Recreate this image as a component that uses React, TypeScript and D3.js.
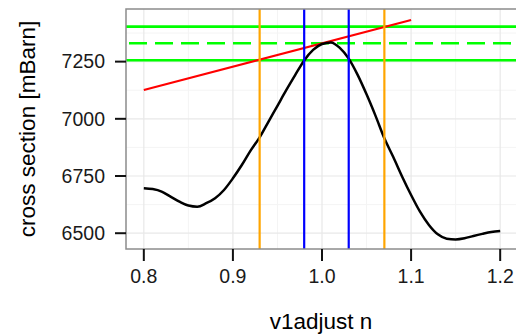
import * as d3 from 'd3';

const adjustN = [
  0.8, 0.81, 0.82, 0.83, 0.84, 0.85, 0.86, 0.87, 0.88, 0.89, 0.9, 0.91, 0.92, 0.93,
  0.94, 0.95, 0.96, 0.97, 0.98, 0.99, 1.0, 1.01, 1.02, 1.03, 1.04, 1.05, 1.06, 1.07,
  1.08, 1.09, 1.1, 1.11, 1.12, 1.13, 1.14, 1.15, 1.16, 1.17, 1.18, 1.19, 1.2,
];
const crossSection = [
  6697, 6693, 6682, 6660, 6638, 6621, 6616, 6631, 6653, 6689, 6740, 6798, 6862, 6919,
  6988, 7057, 7126, 7192, 7255, 7301, 7327, 7334, 7310, 7263, 7192, 7107, 7014, 6915,
  6833, 6747, 6667, 6594, 6536, 6495, 6476, 6473, 6478, 6488, 6497, 6505, 6510,
];

// straight fit line
const fitX = [0.8, 1.1];
const fitY = [7126, 7432];

// horizontal band: low, centre, high
const bandLow = 7256;
const bandMid = 7330;
const bandHigh = 7403;

const innerCuts = [0.98, 1.03];
const outerCuts = [0.93, 1.07];

const xTicks = [0.8, 0.9, 1.0, 1.1, 1.2];
const xMinor = [0.85, 0.95, 1.05, 1.15];
const yTicks = [6500, 6750, 7000, 7250];
const yMinor = [6625, 6875, 7125, 7375];

const W = 516;
const H = 335;
const left = 126;
const top = 9;
const bottom = 249;
const right = 518;

export default function App() {
  const x = d3.scaleLinear().domain([0.78, 1.22]).range([left, right]);
  const y = d3.scaleLinear().domain([6431, 7480]).range([bottom, top]);

  const curve = d3
    .line<number>()
    .x((_, i) => x(adjustN[i]))
    .y((d) => y(d))
    .curve(d3.curveMonotoneX);

  const font = '"Liberation Sans", Arial, sans-serif';

  return (
    <div style={{ position: 'fixed', left: 0, top: 0 }}>
      <svg width={W} height={H} style={{ display: 'block', background: '#fff' }}>
        <defs>
          <clipPath id="panel">
            <rect x={left} y={top} width={right - left} height={bottom - top} />
          </clipPath>
        </defs>
        <rect x={left} y={top} width={right - left} height={bottom - top} fill="#fff" />

        {/* grid */}
        {xMinor.map((t) => (
          <line key={'xm' + t} x1={x(t)} x2={x(t)} y1={top} y2={bottom} stroke="#f4f4f4" strokeWidth={1} />
        ))}
        {yMinor.map((t) => (
          <line key={'ym' + t} x1={left} x2={right} y1={y(t)} y2={y(t)} stroke="#f4f4f4" strokeWidth={1} />
        ))}
        {xTicks.map((t) => (
          <line key={'xg' + t} x1={x(t)} x2={x(t)} y1={top} y2={bottom} stroke="#e8e8e8" strokeWidth={1.2} />
        ))}
        {yTicks.map((t) => (
          <line key={'yg' + t} x1={left} x2={right} y1={y(t)} y2={y(t)} stroke="#e8e8e8" strokeWidth={1.2} />
        ))}

        <g clipPath="url(#panel)">
          {/* green band */}
          <line x1={left} x2={right} y1={y(bandHigh)} y2={y(bandHigh)} stroke="#00ff00" strokeWidth={2.6} />
          <line x1={left} x2={right} y1={y(bandLow)} y2={y(bandLow)} stroke="#00ff00" strokeWidth={2.6} />
          <line
            x1={left}
            x2={right}
            y1={y(bandMid)}
            y2={y(bandMid)}
            stroke="#00ff00"
            strokeWidth={2.6}
            strokeDasharray="18 8"
            strokeDashoffset={-3}
          />

          {/* fit */}
          <line x1={x(fitX[0])} x2={x(fitX[1])} y1={y(fitY[0])} y2={y(fitY[1])} stroke="#ff0000" strokeWidth={2.2} />

          {/* black curve */}
          <path d={curve(crossSection) ?? ''} fill="none" stroke="#000" strokeWidth={2.5} />

          {outerCuts.map((c) => (
            <line key={'o' + c} x1={x(c)} x2={x(c)} y1={top} y2={bottom} stroke="#ffa500" strokeWidth={2.2} />
          ))}
          {innerCuts.map((c) => (
            <line key={'i' + c} x1={x(c)} x2={x(c)} y1={top} y2={bottom} stroke="#0000ff" strokeWidth={2.2} />
          ))}
        </g>

        {/* panel border */}
        <rect
          x={left}
          y={top}
          width={right - left}
          height={bottom - top}
          fill="none"
          stroke="#8c8c8c"
          strokeWidth={1.5}
        />

        {/* y axis */}
        {yTicks.map((t) => (
          <g key={'yt' + t}>
            <line x1={left - 11} x2={left} y1={y(t)} y2={y(t)} stroke="#111" strokeWidth={2} />
            <text
              x={105}
              y={y(t)}
              dy="0.35em"
              textAnchor="end"
              fontFamily={font}
              fontSize={19.5}
              fill="#1a1a1a"
            >
              {t}
            </text>
          </g>
        ))}

        {/* x axis */}
        {xTicks.map((t) => (
          <g key={'xt' + t}>
            <line x1={x(t)} x2={x(t)} y1={bottom} y2={bottom + 12} stroke="#111" strokeWidth={2} />
            <text x={x(t)} y={283} textAnchor="middle" fontFamily={font} fontSize={19.5} fill="#1a1a1a">
              {t.toFixed(1)}
            </text>
          </g>
        ))}

        <text x={321} y={329} textAnchor="middle" fontFamily={font} fontSize={22.5} fill="#000">
          v1adjust n
        </text>
        <text
          transform={`translate(35, ${(top + bottom) / 2}) rotate(-90)`}
          textAnchor="middle"
          fontFamily={font}
          fontSize={22.5}
          fill="#000"
        >
          cross section [mBarn]
        </text>
      </svg>
    </div>
  );
}
